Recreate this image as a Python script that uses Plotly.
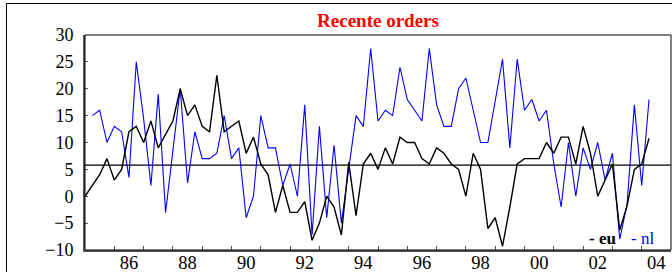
import plotly.graph_objects as go

# ---- data (quarterly) ----
start_year = 1985.0
eu = [0, 2, 4, 7, 3, 5, 12, 13, 10, 14, 9, 11.5, 14, 20, 15, 17, 13, 12, 22.5, 12,
      13, 14, 8, 11, 6, 4, -3, 2, -3, -3, -1, -8.2, -5, 0, -2, -7.2, 6.3, -3.6, 6, 8,
      5, 9, 6, 11, 10, 10, 7, 6, 9, 8, 6, 5, 0, 8, 5, -6, -4, -9.3, -2, 6,
      7, 7, 7, 10, 8, 11, 11, 6, 13, 8, 0, 3, 6, -6.3, -1.8, 5, 6, 10.8]
nl = [15, 16, 10, 13, 12, 3.5, 25, 14.5, 2, 19, -3, 8, 20, 2.5, 12, 7, 7, 8, 15,
      7, 9, -4, 0, 15, 9, 9, 2, 6, 0, 17, -7.2, 13, -4, 9.5, -5, 5, 15, 13, 27.5,
      14, 16, 15, 24, 18, 16, 14, 27.5, 17, 13, 13, 20, 22, 16, 10, 10, 18, 25.5, 9,
      25.5, 16, 18, 14, 16, 6, -2, 10, 0, 9, 5, 10, 3, 8, -8, -1.5, 17, 2, 18]
reference_level = 5.8
x_range = [1985, 2005]
minor_tick_years = list(range(1986, 2005))
label_positions = [1986.5, 1988.5, 1990.5, 1992.5, 1994.5, 1996.5, 1998.5,
                   2000.5, 2002.5, 2004.5]
label_texts = ["86", "88", "90", "92", "94", "96", "98", "00", "02", "04"]
y_ticks = [-10, -5, 0, 5, 10, 15, 20, 25, 30]
title_text = "Recente orders"

x_eu = [start_year + 0.25 * i for i in range(len(eu))]
x_nl = [start_year + 0.25 * (i + 1) for i in range(len(nl))]

W, H = 672, 272
L, R, T, B = 85, 1, 35, 22
pw, ph = W - L - R, H - T - B

font_family = "Liberation Serif, Times New Roman, serif"

fig = go.Figure()
fig.add_trace(go.Scatter(x=x_range, y=[reference_level, reference_level], mode="lines",
                         line=dict(color="black", width=1.3), hoverinfo="skip"))
fig.add_trace(go.Scatter(x=x_nl, y=nl, mode="lines", name="nl",
                         line=dict(color="#0000ff", width=1.1)))
fig.add_trace(go.Scatter(x=x_eu, y=eu, mode="lines", name="eu",
                         line=dict(color="black", width=1.4)))

fig.update_layout(
    width=W, height=H,
    margin=dict(l=L, r=R, t=T, b=B, autoexpand=False),
    paper_bgcolor="white", plot_bgcolor="white",
    showlegend=False,
    font=dict(family=font_family, color="black", size=18),
    title=dict(text="<b>" + title_text + "</b>", x=0.5, xref="paper", xanchor="center",
               y=1 - 20 / H, yref="container", yanchor="middle",
               font=dict(family=font_family, color="red", size=19)),
    xaxis=dict(range=x_range, showgrid=False, zeroline=False, automargin=False,
               showline=True, linecolor="#555555", linewidth=1.5,
               tickmode="array", tickvals=label_positions, ticktext=label_texts,
               ticks="", ticklabelstandoff=-5,
               tickfont=dict(size=18.5, family=font_family),
               minor=dict(tickmode="array", tickvals=minor_tick_years,
                          ticks="inside", ticklen=4, tickcolor="#555555", tickwidth=1)),
    yaxis=dict(range=[-10, 30], showgrid=False, zeroline=False, automargin=False,
               showline=True, linecolor="#555555", linewidth=2,
               tickmode="array", tickvals=y_ticks,
               ticks="inside", ticklen=3, tickcolor="#555555",
               ticklabelstandoff=6,
               tickfont=dict(size=18, family=font_family)),
)

# plot box (top/right thin black lines)
fig.add_shape(type="rect", xref="paper", yref="paper", x0=0, y0=0, x1=1, y1=1,
              line=dict(color="black", width=1))
# outer frame
fig.add_shape(type="rect", xref="paper", yref="paper",
              x0=(6.5 - L) / pw, x1=1.2, y0=-0.5, y1=1 + (T - 3.5) / ph,
              line=dict(color="black", width=1))

# legend text
fig.add_annotation(xref="paper", yref="paper", x=(618 - L) / pw, y=(H - B - 238) / ph,
                   xanchor="right", yanchor="middle", showarrow=False,
                   text="<b>- eu</b>", font=dict(family=font_family, size=17, color="black"))
fig.add_annotation(xref="paper", yref="paper", x=(629 - L) / pw, y=(H - B - 238) / ph,
                   xanchor="left", yanchor="middle", showarrow=False,
                   text="- nl", font=dict(family=font_family, size=17, color="#0000ff"))

fig.write_html("out.html", config={"displayModeBar": False},
               post_script="document.body.style.margin='0';document.body.style.overflow='hidden';")
